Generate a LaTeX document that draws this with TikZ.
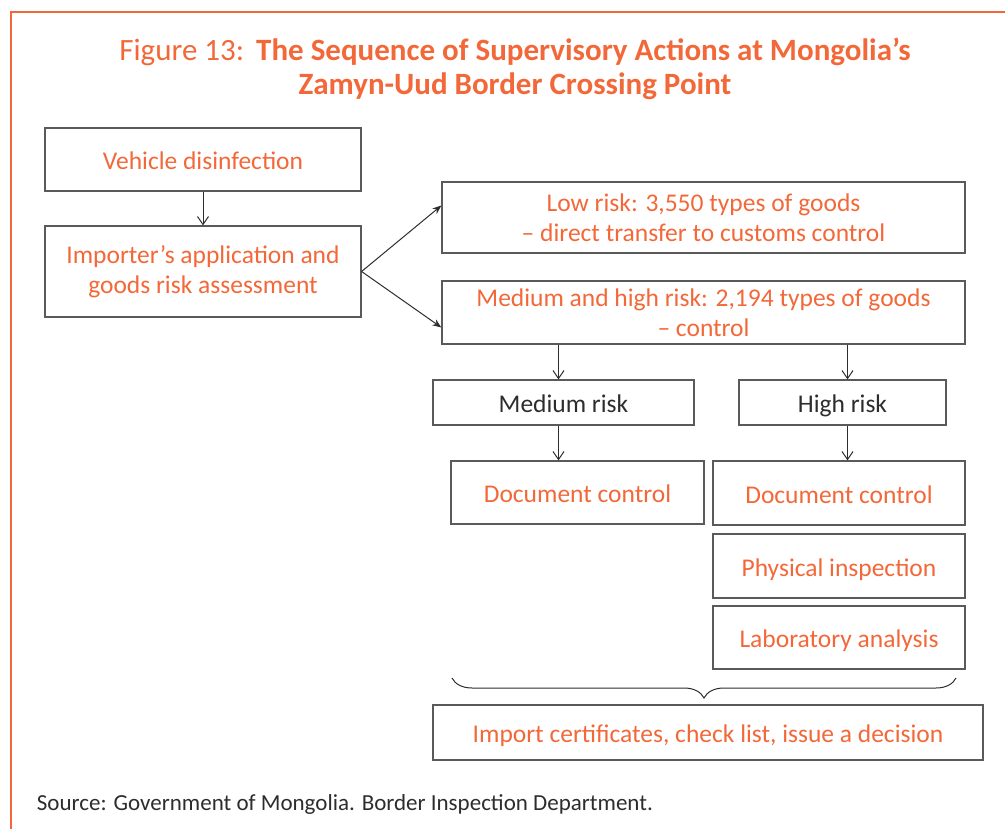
\documentclass[tikz,border=0pt]{standalone}
\usepackage{fontspec}
\setmainfont{Carlito}
\usetikzlibrary{arrows.meta, decorations.pathreplacing}
\definecolor{adborange}{RGB}{242,104,56}
\definecolor{boxgray}{RGB}{90,90,90}
\definecolor{txtgray}{RGB}{45,45,45}

\begin{document}
\begin{tikzpicture}[x=1pt,y=-1pt,line width=1.2pt,
  frame/.style={draw=boxgray,rectangle,inner sep=0pt,text=adborange,
    font=\fontsize{25.5}{30}\selectfont},
  box/.style={frame,align=center},
  single box/.style={frame,text height=21pt,text depth=1pt},
  dark box/.style={single box,text=txtgray},
  solid arrow/.style={-{Stealth[length=9pt,width=7pt]},txtgray,line width=1pt},
  open arrow/.style={-{Straight Barb[length=8pt,width=11pt]},txtgray,line width=1pt}]
  \useasboundingbox (0,0) rectangle (1005,829);
  \draw[adborange,line width=1.3pt] (11,829) -- (11,12) -- (1005,12);
  \node[align=center,text=adborange,font=\fontsize{31}{34}\selectfont] (title) at (515,69)
    {Figure 13:\hspace{12pt}\textbf{The Sequence of Supervisory Actions at Mongolia’s}\\
     \textbf{Zamyn-Uud Border Crossing Point}};
  \node[single box,minimum width=316pt,minimum height=63pt] (vehicle) at (203,159.5) {Vehicle disinfection};
  \node[box,minimum width=316pt,minimum height=91pt] (importer) at (203,271.5)
    {Importer’s application and\\goods risk assessment};
  \node[box,minimum width=523pt,minimum height=71pt] (low) at (703.5,217.5)
    {Low risk: 3,550 types of goods\\– direct transfer to customs control};
  \node[box,minimum width=523pt,minimum height=63pt] (medhigh) at (703.5,312.5)
    {Medium and high risk: 2,194 types of goods\\– control};
  \node[dark box,minimum width=261pt,minimum height=45pt] (medium) at (563.5,402.5) {Medium risk};
  \node[dark box,minimum width=207pt,minimum height=45pt] (high) at (842.5,402.5) {High risk};
  \node[single box,minimum width=253pt,minimum height=63pt] (docmed) at (577.5,492.5) {Document control};
  \node[single box,minimum width=252pt,minimum height=64pt] (dochigh) at (839,493) {Document control};
  \node[single box,minimum width=252pt,minimum height=64pt] (phys) at (839,566) {Physical inspection};
  \node[single box,minimum width=252pt,minimum height=63pt] (lab) at (839,637.5) {Laboratory analysis};
  \node[single box,minimum width=550pt,minimum height=55pt] (final) at (708,732.5)
    {Import certificates, check list, issue a decision};
  \node[anchor=west,text=txtgray,font=\fontsize{23}{27}\selectfont] (source) at (33,804)
    {Source: Government of Mongolia. Border Inspection Department.};
  \coordinate (braceL) at (452,678);
  \coordinate (braceR) at (956,678);
  \draw[txtgray,line width=1pt,decorate,decoration={brace,mirror,amplitude=20pt}]
    (braceL) -- (braceR);
  \path[open arrow]
     (vehicle) edge (importer)
     ([xshift=-5pt]medhigh.south -| medium.north) edge ([xshift=-5pt]medium.north)
     ([xshift=5pt]medhigh.south -| high.north) edge ([xshift=5pt]high.north)
     ([xshift=-5pt]medium.south) edge ([xshift=-5pt]medium.south |- docmed.north)
     ([xshift=5pt]high.south) edge ([xshift=5pt]high.south |- dochigh.north);
  \path[solid arrow]
     (importer.east) edge ([yshift=12pt]low.west)
     (importer.east) edge ([yshift=-15pt]medhigh.west);
\end{tikzpicture}
\end{document}
